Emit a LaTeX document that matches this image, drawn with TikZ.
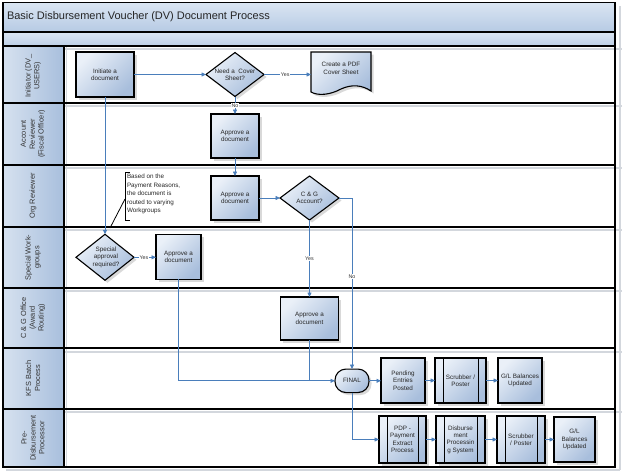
\documentclass[tikz,border=0pt]{standalone}
\usepackage{fontspec}
\setmainfont{Liberation Sans}
\usetikzlibrary{shapes.geometric,arrows.meta,shadows,calc}
\definecolor{lineblue}{HTML}{4A7EBB}
\definecolor{boxlight}{HTML}{EAF0F8}
\definecolor{boxdark}{HTML}{A8BEDC}
\definecolor{hdrlight}{HTML}{D6E1EF}
\definecolor{hdrdark}{HTML}{A8BFDD}
\definecolor{titlelight}{HTML}{DAE5F2}
\definecolor{titledark}{HTML}{B6CAE4}
\definecolor{shadowgray}{HTML}{D3D7DD}
\begin{document}
\begin{tikzpicture}[x=1pt,y=-1pt,
  every node/.style={inner sep=0pt, outer sep=0pt},
  txt/.style={font=\fontsize{6.3}{7.4}\selectfont, align=center, text=black!85},
  shd/.style={drop shadow={shadow xshift=2.5pt, shadow yshift=-2.5pt, fill=black, opacity=0.15}},
  boxshade/.style={top color=boxlight, bottom color=boxdark, shading angle=45},
  proc/.style={rectangle, draw=black, line width=1.1pt, boxshade, shd, txt},
  predef/.style={proc, path picture={
      \draw[line width=1pt] ([xshift=8pt]path picture bounding box.north west) -- ([xshift=8pt]path picture bounding box.south west);
      \draw[line width=1pt] ([xshift=-8pt]path picture bounding box.north east) -- ([xshift=-8pt]path picture bounding box.south east);}},
  decision/.style={diamond, draw=black, line width=1.1pt, boxshade, shd},
  term/.style={rectangle, rounded corners=11pt, draw=black, line width=1.1pt, boxshade, shd, txt},
  conn/.style={draw=lineblue, line width=0.75pt, -{Triangle[length=4.5pt,width=4pt]}},
  plain/.style={draw=lineblue, line width=0.75pt},
  yn/.style={font=\fontsize{5.3}{6}\selectfont, fill=white, inner sep=0.6pt, text=black!80},
  lanelabel/.style={rotate=90, font=\fontsize{7.4}{8.8}\selectfont, align=center, text=black!80},
  hdr/.style={left color=hdrlight, right color=hdrdark, draw=black, line width=1.3pt},
  border/.style={draw=black, line width=1.4pt},
  gline/.style={draw=shadowgray, line width=1.5pt}
]
\useasboundingbox (0,0) rectangle (624,474);

% ---------- frame and lanes ----------
\draw[gline] (6,470) -- (620,470);
\draw[gline] (620,6) -- (620,470);
\foreach \yy in {49,106,168,230,291,352,412} {\draw[gline] (64,\yy) -- (622,\yy);}
\draw[gline] (66.5,47) -- (66.5,466);

\path[top color=titlelight, bottom color=titledark] (3,2.5) rectangle (615,32);
\path[top color=titlelight, bottom color=titledark!90!white] (3,32) rectangle (615,46);

\path[hdr] (3,46) rectangle (64,103);
\path[hdr] (3,103) rectangle (64,165);
\path[hdr] (3,165) rectangle (64,227);
\path[hdr] (3,227) rectangle (64,288);
\path[hdr] (3,288) rectangle (64,348);
\path[hdr] (3,348) rectangle (64,409);
\path[hdr] (3,409) rectangle (64,467);

\foreach \yy in {32,46,103,165,227,288,348,409} {\draw[border] (3,\yy) -- (615,\yy);}
\draw[border] (3,2.5) rectangle (615,467);

\node[anchor=west, font=\fontsize{11}{13}\selectfont, text=black!85] (title) at (7,17) {Basic Disbursement Voucher (DV) Document Process};

\node[lanelabel] (l1) at (33,76) {Initiator (DV\_\\USERS)};
\node[lanelabel] (l2) at (33,134) {Account\\Reviewer\\(Fiscal Officer)};
\node[lanelabel] (l3) at (33,196) {Org Reviewer};
\node[lanelabel] (l4) at (33,257.5) {Special Work-\\groups};
\node[lanelabel] (l5) at (33,318) {C \& G Office\\(Award\\Routing)};
\node[lanelabel] (l6) at (33,378.5) {KFS Batch\\Process};
\node[lanelabel] (l7) at (33,438) {Pre-\\Disbursement\\Processor};

% ---------- nodes ----------
\node[proc, minimum width=58pt, minimum height=45pt] (init) at (105,74.5) {Initiate a\\document};
\node[decision, minimum width=58pt, minimum height=44pt] (need) at (235,74.5) {};
\node[txt] (needT) at (235,74.5) {Need a~ Cover\\Sheet?};

% document shape
\fill[black, opacity=0.15, shift={(2.5,2.5)}] (311,52) -- (371,52) -- (371,91) .. controls (362,85) and (352,84) .. (341,89) .. controls (330,95) and (318,96) .. (311,92) -- cycle;
\path[boxshade, draw=black, line width=1.1pt] (311,52) -- (371,52) -- (371,91) .. controls (362,85) and (352,84) .. (341,89) .. controls (330,95) and (318,96) .. (311,92) -- cycle;
\node[minimum width=60pt, minimum height=40pt] (pdf) at (341,72) {};
\node[txt] (pdfT) at (341,68.5) {Create a PDF\\Cover Sheet};

\node[proc, minimum width=48pt, minimum height=44pt] (acct) at (235,136) {Approve a\\document};
\node[proc, minimum width=48pt, minimum height=44pt] (org) at (235,198) {Approve a\\document};
\node[decision, minimum width=59pt, minimum height=44pt] (cg) at (309.5,198) {};
\node[txt] (cgT) at (309.5,198) {C \& G\\Account?};

\node[decision, minimum width=58pt, minimum height=46pt] (spec) at (105,257.3) {};
\node[txt] (specT) at (106,257.3) {Special\\approval\\required?};
\node[proc, minimum width=45pt, minimum height=45pt] (sapp) at (178.5,256.7) {Approve a\\document};

\node[proc, minimum width=58pt, minimum height=43pt] (cgapp) at (309.5,318.5) {Approve a\\document};

\node[term, minimum width=34pt, minimum height=23.5pt] (final) at (352,380.8) {FINAL};
\node[proc, minimum width=44pt, minimum height=45pt] (pend) at (403,380.5) {Pending\\Entries\\Posted};
\node[predef, minimum width=51pt, minimum height=45pt] (scr1) at (460.5,380.5) {Scrubber /\\Poster};
\node[proc, minimum width=44pt, minimum height=45pt] (gl1) at (520,380.5) {G/L Balances\\Updated};

\node[predef, minimum width=47pt, minimum height=47pt] (pdp) at (402.5,439.5) {PDP -\\Payment\\Extract\\Process};
\node[predef, minimum width=49pt, minimum height=47pt] (disb) at (460.5,439.5) {Disburse\\ment\\Processin\\g System};
\node[predef, minimum width=48pt, minimum height=47pt] (scr2) at (521,439.5) {Scrubber\\/ Poster};
\node[proc, minimum width=41pt, minimum height=45pt] (gl2) at (574.5,439.5) {G/L\\Balances\\Updated};

% annotation
\draw[black, line width=0.8pt] (130,172) -- (125,172) -- (125,220) -- (130,220);
\coordinate (annEnd) at (110,228);
\draw[black, line width=0.8pt] (125,199) -- (annEnd);
\node[anchor=north west, align=left, font=\fontsize{6.3}{8.6}\selectfont, text=black!85] (ann) at (127,174) {Based on the\\Payment Reasons,\\the document is\\routed to varying\\Workgroups};

% ---------- connectors ----------
\draw[conn] (init.east |- need.west) -- (need.west);
\draw[conn] (need.east) -- node[yn, pos=0.45]{Yes} (need.east -| pdf.west);
\draw[conn] (need.south) -- node[yn, pos=0.5]{No} (acct.north);
\draw[conn] (acct.south) -- (org.north);
\draw[conn] (org.east) -- (cg.west);
\draw[conn] (cg.east) -| node[yn, pos=0.73]{No} (final.north);
\draw[conn] (cg.south) -- node[yn, pos=0.5]{Yes} (cgapp.north);
\draw[conn] (init.south) -- (spec.north);
\draw[conn] (spec.east) -- node[yn, pos=0.45]{Yes} (spec.east -| sapp.west);
\draw[conn] (sapp.south) |- (final.west);
\draw[plain] (cgapp.south) -- (cgapp.south |- final.west);
\draw[conn] (final.east) -- (final.east -| pend.west);
\draw[conn] (pend.east) -- (scr1.west);
\draw[conn] (scr1.east) -- (gl1.west);
\draw[conn] (final.south) |- (pdp.west);
\draw[conn] (pdp.east) -- (disb.west);
\draw[conn] (disb.east) -- (scr2.west);
\draw[conn] (scr2.east) -- (gl2.west);
\end{tikzpicture}
\end{document}
